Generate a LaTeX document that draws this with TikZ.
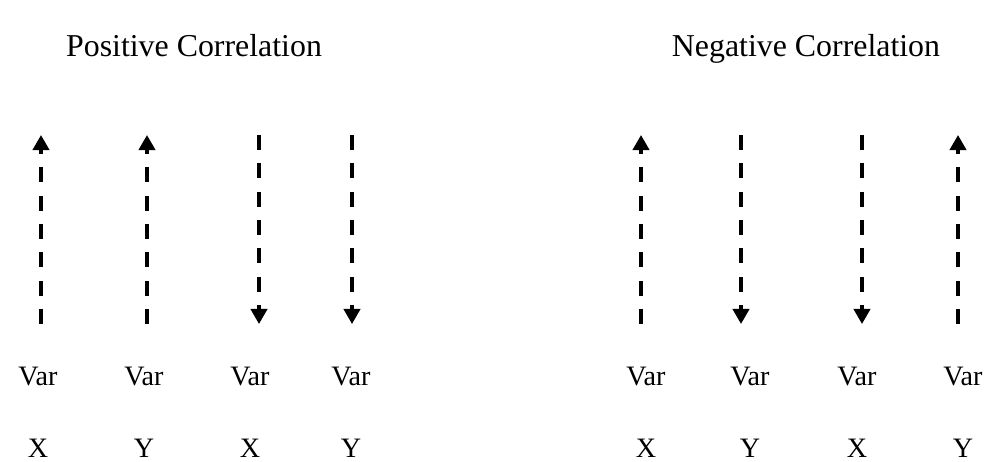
\documentclass[tikz,border=0pt]{standalone}
\usepackage{fontspec}
\setmainfont{Liberation Serif}
\usetikzlibrary{arrows.meta,positioning}

\begin{document}
\begin{tikzpicture}[x=0.015cm, y=-0.015cm,
  lbl/.style={anchor=base, inner sep=0pt, font=\fontsize{12}{14}\selectfont},
  ttl/.style={anchor=base, inner sep=0pt, font=\fontsize{13.6}{16}\selectfont},
  dasharrow/.style={line width=1.5pt, dash pattern=on 6.4pt off 5.7pt, -{Triangle[width=7pt,length=6.5pt]}}]
  \useasboundingbox (0,0) rectangle (989,461);
  % titles
  \node[ttl] (pos) at (194,56) {Positive Correlation};
  \node[ttl] (neg) at (806,56) {Negative Correlation};
  % labels, positive side
  \node[lbl] (pv1) at (38,385) {Var};
  \node[lbl] (pv2) at (144,385) {Var};
  \node[lbl] (pv3) at (250,385) {Var};
  \node[lbl] (pv4) at (351,385) {Var};
  \node[lbl] (px1) at (38,457) {X};
  \node[lbl] (py2) at (144,457) {Y};
  \node[lbl] (px3) at (250,457) {X};
  \node[lbl] (py4) at (351,457) {Y};
  % labels, negative side
  \node[lbl] (nv1) at (646,385) {Var};
  \node[lbl] (nv2) at (750,385) {Var};
  \node[lbl] (nv3) at (857,385) {Var};
  \node[lbl] (nv4) at (963,385) {Var};
  \node[lbl] (nx1) at (646,457) {X};
  \node[lbl] (ny2) at (750,457) {Y};
  \node[lbl] (nx3) at (857,457) {X};
  \node[lbl] (ny4) at (963,457) {Y};
  % arrow ends
  \coordinate (pa1t) at (41,135);  \coordinate (pa1b) at (41,324);
  \coordinate (pa2t) at (147,135); \coordinate (pa2b) at (147,324);
  \coordinate (pa3t) at (259,135); \coordinate (pa3b) at (259,324);
  \coordinate (pa4t) at (352,135); \coordinate (pa4b) at (352,324);
  \coordinate (na1t) at (641,135); \coordinate (na1b) at (641,324);
  \coordinate (na2t) at (741,135); \coordinate (na2b) at (741,324);
  \coordinate (na3t) at (862,135); \coordinate (na3b) at (862,324);
  \coordinate (na4t) at (958,135); \coordinate (na4b) at (958,324);
  % positive: both up, both down
  \draw[dasharrow] (pa1b) -- (pa1t);
  \draw[dasharrow] (pa2b) -- (pa2t);
  \draw[dasharrow] (pa3t) -- (pa3b);
  \draw[dasharrow] (pa4t) -- (pa4b);
  % negative: opposite directions
  \draw[dasharrow] (na1b) -- (na1t);
  \draw[dasharrow] (na2t) -- (na2b);
  \draw[dasharrow] (na3t) -- (na3b);
  \draw[dasharrow] (na4b) -- (na4t);
\end{tikzpicture}
\end{document}
